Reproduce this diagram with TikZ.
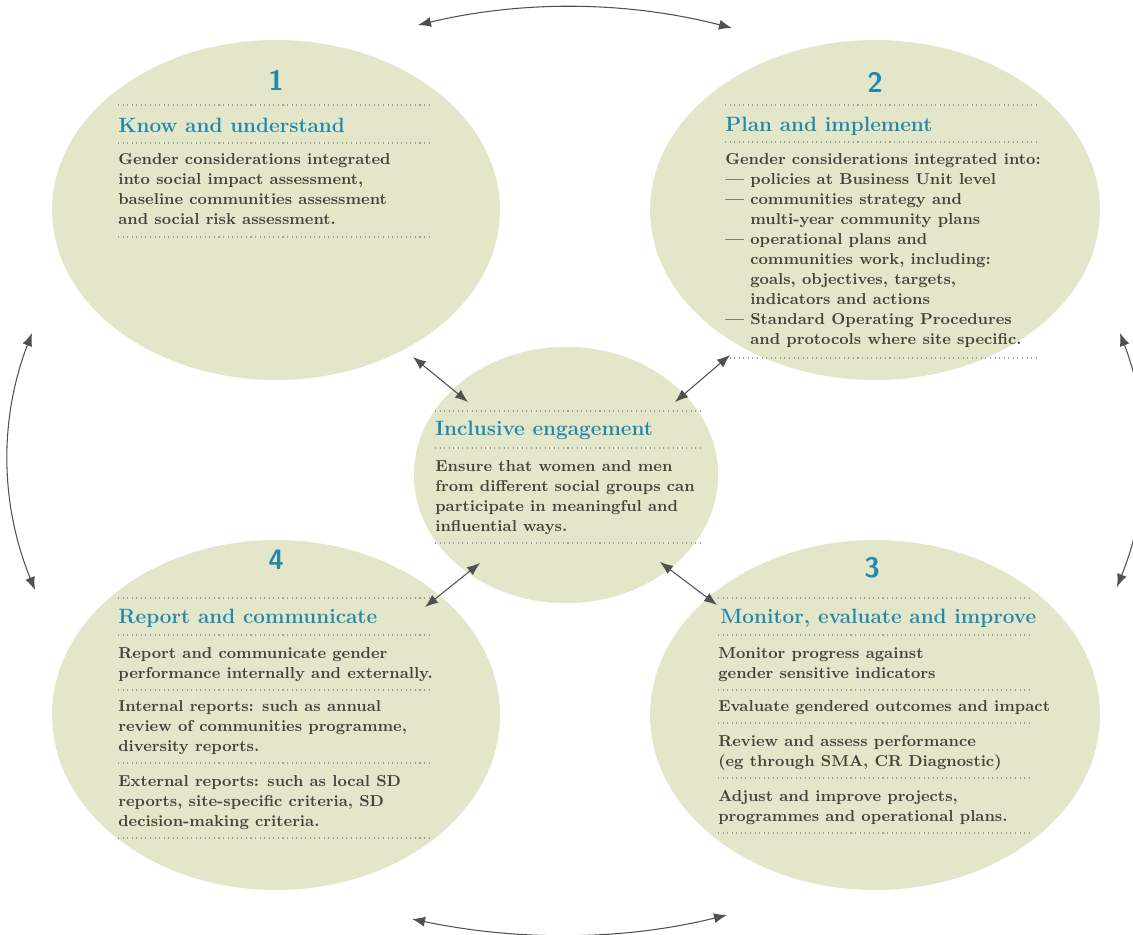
\documentclass[tikz,border=0pt]{standalone}
\usepackage{tikz}
\usetikzlibrary{shapes.geometric,arrows.meta}
\definecolor{blobfill}{RGB}{227,230,201}
\definecolor{headteal}{RGB}{33,137,173}
\definecolor{bodytext}{RGB}{72,66,60}
\definecolor{arrowgray}{RGB}{80,80,80}
\tikzset{
	blob/.style={ellipse,fill=blobfill,inner sep=0pt},
	stagenum/.style={text=headteal,font=\sffamily\bfseries\fontsize{16}{19}\selectfont},
	stagehead/.style={anchor=west,text=headteal,inner sep=0pt,font=\bfseries\fontsize{11.8}{14}\selectfont},
	stagetext/.style={anchor=north west,align=left,text=bodytext,inner sep=0pt,font=\bfseries\fontsize{9}{11.38}\selectfont},
	dotrule/.style={dotted,gray!75,line width=0.6pt},
	twoway/.style={{Latex[length=2.6mm,width=2mm]}-{Latex[length=2.6mm,width=2mm]},arrowgray,line width=0.6pt},
}

\begin{document}
\begin{tikzpicture}[x=0.02cm,y=-0.02cm]
		\useasboundingbox (0,0) rectangle (1133,934);
		\node[blob,minimum width=8.96cm,minimum height=6.8cm] (know) at (276,210){};
		\node[blob,minimum width=9cm,minimum height=6.8cm] (plan) at (875,210){};
		\node[blob,minimum width=8.96cm,minimum height=7cm] (report) at (276,715){};
		\node[blob,minimum width=9cm,minimum height=7cm] (monitor) at (875,715){};
		\node[blob,draw=white,line width=2pt,minimum width=6.16cm,minimum height=5.2cm] (engage) at (566,475){};

		\node[stagenum] (n1) at (276,80){1};
		\node[stagenum] (n2) at (875,82){2};
		\node[stagenum] (n3) at (872,568){3};
		\node[stagenum] (n4) at (276,560){4};

		\foreach \y in {105,143,237} \draw[dotrule] (118,\y) -- (432,\y);
		\foreach \y in {105,142,358} \draw[dotrule] (725,\y) -- (1038,\y);
		\foreach \y in {411,448,543} \draw[dotrule] (435,\y) -- (702,\y);
		\foreach \y in {598,635,690,763,838} \draw[dotrule] (118,\y) -- (433,\y);
		\foreach \y in {598,635,690,723,778,833} \draw[dotrule] (718,\y) -- (1033,\y);

		\node[stagehead] (h1) at (118,125){Know and understand};
		\node[stagehead] (h2) at (725,126){Plan and implement};
		\node[stagehead] (hc) at (435,430){Inclusive engagement};
		\node[stagehead] (h4) at (118,618){Report and communicate};
		\node[stagehead] (h3) at (720,618){Monitor, evaluate and improve};

		\node[stagetext] (t1) at (118,153){Gender considerations integrated\\into social impact assessment,\\baseline communities assessment\\and social risk assessment.};
		\node[stagetext] (t2) at (725,153){Gender considerations integrated into:\\
			\textemdash\ policies at Business Unit level\\
			\textemdash\ communities strategy and\\
			\hphantom{\textemdash\ }multi-year community plans\\
			\textemdash\ operational plans and\\
			\hphantom{\textemdash\ }communities work, including:\\
			\hphantom{\textemdash\ }goals, objectives, targets,\\
			\hphantom{\textemdash\ }indicators and actions\\
			\textemdash\ Standard Operating Procedures\\
			\hphantom{\textemdash\ }and protocols where site specific.};
		\node[stagetext] (tc) at (435,460){Ensure that women and men\\from different social groups can\\participate in meaningful and\\influential ways.};
		\node[stagetext] (t4a) at (118,647){Report and communicate gender\\performance internally and externally.};
		\node[stagetext] (t4b) at (118,700){Internal reports: such as annual\\review of communities programme,\\diversity reports.};
		\node[stagetext] (t4c) at (118,775){External reports: such as local SD\\reports, site-specific criteria, SD\\decision-making criteria.};
		\node[stagetext] (t3a) at (718,647){Monitor progress against\\gender sensitive indicators};
		\node[stagetext] (t3b) at (718,700){Evaluate gendered outcomes and impact};
		\node[stagetext] (t3c) at (718,735){Review and assess performance\\(eg through SMA, CR Diagnostic)};
		\node[stagetext] (t3d) at (718,790){Adjust and improve projects,\\programmes and operational plans.};

		\coordinate (k1) at (413,357);
		\coordinate (e1) at (468,402);
		\coordinate (p1) at (730,355);
		\coordinate (e2) at (675,402);
		\coordinate (r1) at (425,607);
		\coordinate (e4) at (480,563);
		\coordinate (m1) at (717,605);
		\coordinate (e3) at (660,562);
		\draw[twoway] (k1) -- (e1);
		\draw[twoway] (p1) -- (e2);
		\draw[twoway] (r1) -- (e4);
		\draw[twoway] (m1) -- (e3);

		\coordinate (topl) at (418,25);
		\coordinate (topr) at (732,28);
		\coordinate (rgtt) at (1120,333);
		\coordinate (rgtb) at (1117,587);
		\coordinate (botr) at (727,915);
		\coordinate (botl) at (412,919);
		\coordinate (lftb) at (35,590);
		\coordinate (lftt) at (32,333);
		\draw[twoway] (topl) .. controls (523,0) and (627,1) .. (topr);
		\draw[twoway] (rgtt) .. controls (1152,418) and (1151,502) .. (rgtb);
		\draw[twoway] (botr) .. controls (622,941) and (517,941) .. (botl);
		\draw[twoway] (lftb) .. controls (0,504) and (-1,419) .. (lftt);
	\end{tikzpicture}
\end{document}
